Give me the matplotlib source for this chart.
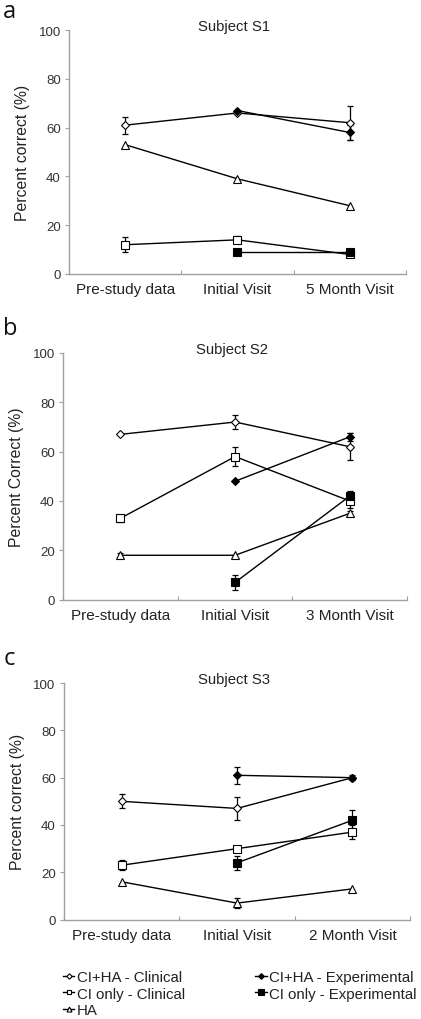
import matplotlib

matplotlib.use("Agg")
import matplotlib.pyplot as plt
import numpy as np

plt.rcParams["font.family"] = ["Liberation Sans", "DejaVu Sans"]

# category labels per subject
cats_s1 = ["Pre-study data", "Initial Visit", "5 Month Visit"]
cats_s2 = ["Pre-study data", "Initial Visit", "3 Month Visit"]
cats_s3 = ["Pre-study data", "Initial Visit", "2 Month Visit"]

# values: None = no data at that visit
s1_ciha_clin = [61, 66, 62]
s1_ciha_clin_err = [3.5, 0, 7]
s1_ciha_exp = [None, 67, 58]
s1_ciha_exp_err = [0, 0, 3]
s1_ci_clin = [12, 14, 8]
s1_ci_clin_err = [3, 1.5, 0]
s1_ci_exp = [None, 9, 9]
s1_ci_exp_err = [0, 0, 0]
s1_ha = [53, 39, 28]
s1_ha_err = [0, 0, 0]

s2_ciha_clin = [67, 72, 62]
s2_ciha_clin_err = [0, 3, 5.5]
s2_ciha_exp = [None, 48, 66]
s2_ciha_exp_err = [0, 0, 1.5]
s2_ci_clin = [33, 58, 40]
s2_ci_clin_err = [1.5, 4, 3]
s2_ci_exp = [None, 7, 42]
s2_ci_exp_err = [0, 3, 2]
s2_ha = [18, 18, 35]
s2_ha_err = [1, 0, 1]

s3_ciha_clin = [50, 47, 60]
s3_ciha_clin_err = [3, 5, 0]
s3_ciha_exp = [None, 61, 60]
s3_ciha_exp_err = [0, 3.5, 1]
s3_ci_clin = [23, 30, 37]
s3_ci_clin_err = [2, 0, 3]
s3_ci_exp = [None, 24, 42]
s3_ci_exp_err = [0, 3, 4.5]
s3_ha = [16, 7, 13]
s3_ha_err = [0, 2, 0]

series_labels = [
    "CI+HA - Clinical",
    "CI+HA - Experimental",
    "CI only - Clinical",
    "CI only - Experimental",
    "HA",
]
styles = [
    dict(marker="D", mfc="white", ms=4.2),
    dict(marker="D", mfc="black", ms=4.5),
    dict(marker="s", mfc="white", ms=5.5),
    dict(marker="s", mfc="black", ms=6),
    dict(marker="^", mfc="white", ms=5.5),
]

GRAY = "#a0a0a0"
TXT = "#222222"


def draw_panel(ax, cats, series, errs, title, ylabel):
    x = np.arange(len(cats)) + 0.5
    handles = []
    for vals, err, st, lab in zip(series, errs, styles, series_labels):
        mask = [v is not None for v in vals]
        xs = x[mask]
        ys = np.array([v for v in vals if v is not None], dtype=float)
        es = np.array([e for e, m in zip(err, mask) if m], dtype=float)
        ax.errorbar(xs, ys, yerr=np.where(es > 0, es, np.nan), fmt="none",
                    ecolor="black", elinewidth=0.9, capsize=2, capthick=0.9, zorder=2)
        (h,) = ax.plot(xs, ys, color="black", lw=1.0, marker=st["marker"],
                       mfc=st["mfc"], mec="black", mew=0.8, ms=st["ms"], label=lab, zorder=3)
        handles.append(h)
    ax.set_xlim(0, 3)
    ax.set_ylim(0, 100)
    ax.set_yticks(range(0, 101, 20))
    ax.set_xticks([0, 1, 2, 3])
    ax.set_xticklabels([])
    ax.set_xticks(x, minor=True)
    ax.set_xticklabels(cats, minor=True, fontsize=11, color=TXT)
    ax.tick_params(axis="x", which="minor", length=0, pad=6)
    ax.tick_params(axis="x", which="major", length=3, color=GRAY, direction="in")
    ax.tick_params(axis="y", length=3, color=GRAY, labelsize=9.5, labelcolor="#333333", pad=3)
    for s in ("top", "right"):
        ax.spines[s].set_visible(False)
    for s in ("left", "bottom"):
        ax.spines[s].set_color(GRAY)
        ax.spines[s].set_linewidth(1.0)
    ax.set_ylabel(ylabel, fontsize=11.3, color=TXT, labelpad=6)
    ax.text(0.49, 1.015, title, transform=ax.transAxes, ha="center", va="center",
            fontsize=10.7, color=TXT)
    return handles


fig = plt.figure(figsize=(4.21, 10.2), dpi=100)

ax_a = fig.add_axes([0.164, 0.7304, 0.800, 0.2392])
ax_b = fig.add_axes([0.150, 0.4111, 0.817, 0.2419])
ax_c = fig.add_axes([0.152, 0.0974, 0.822, 0.2320])

draw_panel(ax_a, cats_s1,
           [s1_ciha_clin, s1_ciha_exp, s1_ci_clin, s1_ci_exp, s1_ha],
           [s1_ciha_clin_err, s1_ciha_exp_err, s1_ci_clin_err, s1_ci_exp_err, s1_ha_err],
           "Subject S1", "Percent correct (%)")
draw_panel(ax_b, cats_s2,
           [s2_ciha_clin, s2_ciha_exp, s2_ci_clin, s2_ci_exp, s2_ha],
           [s2_ciha_clin_err, s2_ciha_exp_err, s2_ci_clin_err, s2_ci_exp_err, s2_ha_err],
           "Subject S2", "Percent Correct (%)")
handles = draw_panel(ax_c, cats_s3,
                     [s3_ciha_clin, s3_ciha_exp, s3_ci_clin, s3_ci_exp, s3_ha],
                     [s3_ciha_clin_err, s3_ciha_exp_err, s3_ci_clin_err, s3_ci_exp_err, s3_ha_err],
                     "Subject S3", "Percent correct (%)")

for lab, y in zip(["a", "b", "c"], [0.988, 0.677, 0.354]):
    fig.text(0.008, y, lab, fontsize=17, family=["Open Sans", "DejaVu Sans"],
             ha="left", va="center", color="#111111")

order = [0, 2, 4, 1, 3]
leg = fig.legend([handles[i] for i in order], [series_labels[i] for i in order],
                 loc="upper left", bbox_to_anchor=(0.15, 0.048), ncol=2,
                 frameon=False, fontsize=10.8, handlelength=0.75, handletextpad=0.15,
                 columnspacing=4.7, labelspacing=0.17, borderpad=0, borderaxespad=0,
                 markerscale=0.65)
for t in leg.get_texts():
    t.set_color(TXT)

fig.savefig("out.png", dpi=100)
